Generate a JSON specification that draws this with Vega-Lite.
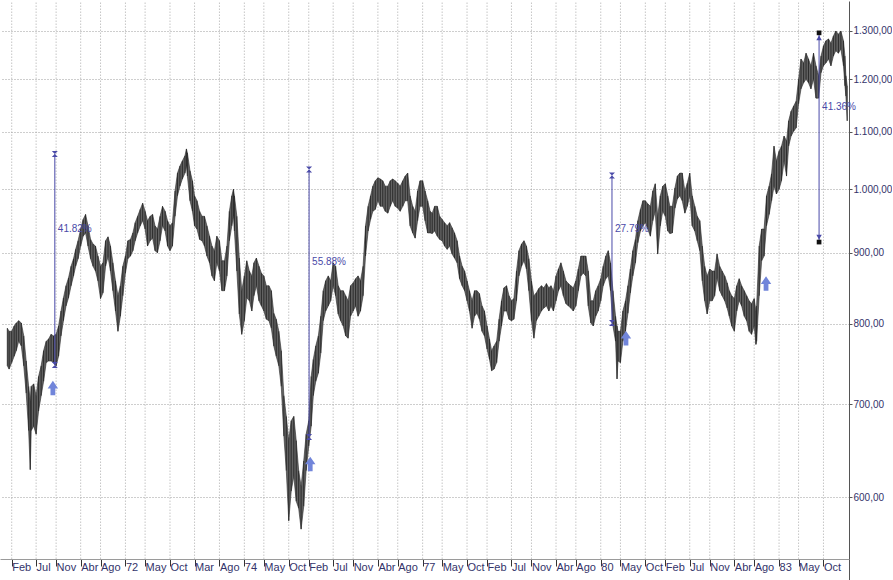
{
  "$schema": "https://vega.github.io/schema/vega-lite/v6.json",
  "width": 849,
  "height": 580,
  "padding": 0,
  "background": "white",
  "config": {
    "view": {"stroke": null},
    "axis": {"labelFont": "Liberation Sans", "title": null}
  },
  "datasets": {
    "series": [
      {"d":"1970-01-05","hi":794,"lo":746},{"d":"1970-01-16","hi":790,"lo":742},{"d":"1970-02-01","hi":790,"lo":750},{"d":"1970-02-16","hi":797,"lo":758},
      {"d":"1970-03-01","hi":801,"lo":765},{"d":"1970-03-16","hi":804,"lo":777},{"d":"1970-04-01","hi":801,"lo":771},{"d":"1970-04-16","hi":784,"lo":746},
      {"d":"1970-05-01","hi":752,"lo":713},{"d":"1970-05-16","hi":721,"lo":670},{"d":"1970-05-26","hi":704,"lo":628},{"d":"1970-06-01","hi":721,"lo":670},
      {"d":"1970-06-16","hi":724,"lo":675},{"d":"1970-07-01","hi":710,"lo":666},{"d":"1970-07-16","hi":733,"lo":692},{"d":"1970-08-01","hi":746,"lo":710},
      {"d":"1970-08-16","hi":765,"lo":727},{"d":"1970-09-01","hi":777,"lo":750},{"d":"1970-09-16","hi":780,"lo":752},{"d":"1970-10-01","hi":786,"lo":752},
      {"d":"1970-10-16","hi":784,"lo":750},{"d":"1970-11-01","hi":786,"lo":746},{"d":"1970-11-16","hi":797,"lo":758},{"d":"1970-12-01","hi":817,"lo":784},
      {"d":"1970-12-16","hi":835,"lo":804},{"d":"1971-01-01","hi":852,"lo":824},{"d":"1971-01-16","hi":863,"lo":835},{"d":"1971-02-01","hi":880,"lo":852},
      {"d":"1971-02-16","hi":891,"lo":866},{"d":"1971-03-01","hi":905,"lo":880},{"d":"1971-03-16","hi":918,"lo":891},{"d":"1971-04-01","hi":936,"lo":910},
      {"d":"1971-04-16","hi":951,"lo":925},{"d":"1971-05-01","hi":959,"lo":930},{"d":"1971-05-16","hi":941,"lo":910},{"d":"1971-06-01","hi":920,"lo":891},
      {"d":"1971-06-16","hi":913,"lo":880},{"d":"1971-07-01","hi":910,"lo":873},{"d":"1971-07-16","hi":895,"lo":859},{"d":"1971-08-01","hi":880,"lo":834},
      {"d":"1971-08-16","hi":885,"lo":842},{"d":"1971-09-01","hi":918,"lo":880},{"d":"1971-09-16","hi":924,"lo":894},{"d":"1971-10-01","hi":910,"lo":873},
      {"d":"1971-10-16","hi":885,"lo":845},{"d":"1971-11-01","hi":859,"lo":817},{"d":"1971-11-16","hi":838,"lo":790},{"d":"1971-12-01","hi":852,"lo":810},
      {"d":"1971-12-16","hi":880,"lo":838},{"d":"1972-01-01","hi":895,"lo":870},{"d":"1972-01-16","hi":918,"lo":891},{"d":"1972-02-01","hi":920,"lo":895},
      {"d":"1972-02-16","hi":930,"lo":903},{"d":"1972-03-01","hi":946,"lo":918},{"d":"1972-03-16","hi":956,"lo":930},{"d":"1972-04-01","hi":967,"lo":941},
      {"d":"1972-04-16","hi":977,"lo":949},{"d":"1972-05-01","hi":964,"lo":936},{"d":"1972-05-16","hi":949,"lo":910},{"d":"1972-06-01","hi":956,"lo":918},
      {"d":"1972-06-16","hi":959,"lo":922},{"d":"1972-07-01","hi":941,"lo":903},{"d":"1972-07-16","hi":936,"lo":900},{"d":"1972-08-01","hi":956,"lo":918},
      {"d":"1972-08-16","hi":972,"lo":941},{"d":"1972-09-01","hi":964,"lo":933},{"d":"1972-09-16","hi":949,"lo":910},{"d":"1972-10-01","hi":941,"lo":903},
      {"d":"1972-10-16","hi":946,"lo":910},{"d":"1972-11-01","hi":997,"lo":956},{"d":"1972-11-16","hi":1027,"lo":989},{"d":"1972-12-01","hi":1039,"lo":1005},
      {"d":"1972-12-16","hi":1048,"lo":1017},{"d":"1973-01-01","hi":1057,"lo":1027},{"d":"1973-01-10","hi":1069,"lo":1039},{"d":"1973-01-16","hi":1062,"lo":1022},
      {"d":"1973-02-01","hi":1031,"lo":981},{"d":"1973-02-16","hi":1014,"lo":964},{"d":"1973-03-01","hi":989,"lo":941},{"d":"1973-03-16","hi":981,"lo":936},
      {"d":"1973-04-01","hi":964,"lo":920},{"d":"1973-04-16","hi":956,"lo":918},{"d":"1973-05-01","hi":956,"lo":910},{"d":"1973-05-16","hi":941,"lo":895},
      {"d":"1973-06-01","hi":925,"lo":885},{"d":"1973-06-16","hi":910,"lo":866},{"d":"1973-07-01","hi":903,"lo":859},{"d":"1973-07-16","hi":925,"lo":885},
      {"d":"1973-08-01","hi":918,"lo":873},{"d":"1973-08-16","hi":888,"lo":845},{"d":"1973-09-01","hi":888,"lo":845},{"d":"1973-09-16","hi":910,"lo":866},
      {"d":"1973-10-01","hi":964,"lo":918},{"d":"1973-10-16","hi":989,"lo":941},{"d":"1973-10-26","hi":1000,"lo":956},{"d":"1973-11-01","hi":989,"lo":933},
      {"d":"1973-11-16","hi":956,"lo":873},{"d":"1973-12-01","hi":892,"lo":813},{"d":"1973-12-16","hi":845,"lo":786},{"d":"1974-01-01","hi":866,"lo":804},
      {"d":"1974-01-16","hi":888,"lo":835},{"d":"1974-02-01","hi":873,"lo":831},{"d":"1974-02-16","hi":866,"lo":817},{"d":"1974-03-01","hi":885,"lo":838},
      {"d":"1974-03-16","hi":892,"lo":852},{"d":"1974-04-01","hi":880,"lo":831},{"d":"1974-04-16","hi":870,"lo":824},{"d":"1974-05-01","hi":866,"lo":817},
      {"d":"1974-05-16","hi":852,"lo":806},{"d":"1974-06-01","hi":852,"lo":804},{"d":"1974-06-16","hi":845,"lo":794},{"d":"1974-07-01","hi":814,"lo":771},
      {"d":"1974-07-16","hi":806,"lo":758},{"d":"1974-08-01","hi":790,"lo":746},{"d":"1974-08-16","hi":765,"lo":721},{"d":"1974-09-01","hi":710,"lo":664},
      {"d":"1974-09-16","hi":686,"lo":627},{"d":"1974-10-01","hi":659,"lo":577},{"d":"1974-10-16","hi":681,"lo":606},{"d":"1974-11-01","hi":686,"lo":621},
      {"d":"1974-11-16","hi":659,"lo":596},{"d":"1974-12-01","hi":627,"lo":589},{"d":"1974-12-16","hi":611,"lo":569},{"d":"1975-01-01","hi":637,"lo":591},
      {"d":"1975-01-16","hi":666,"lo":627},{"d":"1975-02-01","hi":681,"lo":653},{"d":"1975-02-16","hi":733,"lo":675},{"d":"1975-03-01","hi":754,"lo":710},
      {"d":"1975-03-16","hi":771,"lo":727},{"d":"1975-04-01","hi":784,"lo":737},{"d":"1975-04-16","hi":810,"lo":762},{"d":"1975-05-01","hi":845,"lo":804},
      {"d":"1975-05-16","hi":859,"lo":817},{"d":"1975-06-01","hi":866,"lo":824},{"d":"1975-06-16","hi":859,"lo":831},{"d":"1975-07-01","hi":885,"lo":852},
      {"d":"1975-07-16","hi":880,"lo":838},{"d":"1975-08-01","hi":852,"lo":813},{"d":"1975-08-16","hi":845,"lo":804},{"d":"1975-09-01","hi":845,"lo":797},
      {"d":"1975-09-16","hi":838,"lo":784},{"d":"1975-10-01","hi":831,"lo":781},{"d":"1975-10-16","hi":852,"lo":810},{"d":"1975-11-01","hi":856,"lo":817},
      {"d":"1975-11-16","hi":862,"lo":824},{"d":"1975-12-01","hi":866,"lo":810},{"d":"1975-12-16","hi":859,"lo":817},{"d":"1976-01-01","hi":880,"lo":838},
      {"d":"1976-01-16","hi":941,"lo":895},{"d":"1976-02-01","hi":972,"lo":933},{"d":"1976-02-16","hi":989,"lo":951},{"d":"1976-03-01","hi":1005,"lo":964},
      {"d":"1976-03-16","hi":1014,"lo":967},{"d":"1976-04-01","hi":1019,"lo":981},{"d":"1976-04-16","hi":1017,"lo":972},{"d":"1976-05-01","hi":1014,"lo":972},
      {"d":"1976-05-16","hi":1005,"lo":964},{"d":"1976-06-01","hi":1005,"lo":961},{"d":"1976-06-16","hi":1014,"lo":972},{"d":"1976-07-01","hi":1017,"lo":981},
      {"d":"1976-07-16","hi":1014,"lo":972},{"d":"1976-08-01","hi":1010,"lo":969},{"d":"1976-08-16","hi":1005,"lo":964},{"d":"1976-09-01","hi":1014,"lo":972},
      {"d":"1976-09-16","hi":1022,"lo":981},{"d":"1976-10-01","hi":1027,"lo":981},{"d":"1976-10-16","hi":989,"lo":941},{"d":"1976-11-01","hi":972,"lo":930},
      {"d":"1976-11-16","hi":964,"lo":922},{"d":"1976-12-01","hi":997,"lo":949},{"d":"1976-12-16","hi":1014,"lo":972},{"d":"1977-01-01","hi":1014,"lo":972},
      {"d":"1977-01-16","hi":997,"lo":949},{"d":"1977-02-01","hi":981,"lo":930},{"d":"1977-02-16","hi":964,"lo":930},{"d":"1977-03-01","hi":961,"lo":929},
      {"d":"1977-03-16","hi":972,"lo":933},{"d":"1977-04-01","hi":972,"lo":925},{"d":"1977-04-16","hi":956,"lo":920},{"d":"1977-05-01","hi":951,"lo":918},
      {"d":"1977-05-16","hi":946,"lo":910},{"d":"1977-06-01","hi":941,"lo":905},{"d":"1977-06-16","hi":946,"lo":910},{"d":"1977-07-01","hi":938,"lo":898},
      {"d":"1977-07-16","hi":930,"lo":892},{"d":"1977-08-01","hi":918,"lo":885},{"d":"1977-08-16","hi":895,"lo":862},{"d":"1977-09-01","hi":880,"lo":852},
      {"d":"1977-09-16","hi":873,"lo":845},{"d":"1977-10-01","hi":859,"lo":831},{"d":"1977-10-16","hi":845,"lo":817},{"d":"1977-11-01","hi":831,"lo":794},
      {"d":"1977-11-16","hi":845,"lo":810},{"d":"1977-12-01","hi":845,"lo":814},{"d":"1977-12-16","hi":841,"lo":806},{"d":"1978-01-01","hi":824,"lo":790},
      {"d":"1978-01-16","hi":817,"lo":784},{"d":"1978-02-01","hi":797,"lo":767},{"d":"1978-02-16","hi":780,"lo":754},{"d":"1978-03-01","hi":765,"lo":740},
      {"d":"1978-03-16","hi":771,"lo":742},{"d":"1978-04-01","hi":777,"lo":750},{"d":"1978-04-16","hi":806,"lo":777},{"d":"1978-05-01","hi":831,"lo":797},
      {"d":"1978-05-16","hi":849,"lo":817},{"d":"1978-06-01","hi":852,"lo":817},{"d":"1978-06-16","hi":838,"lo":806},{"d":"1978-07-01","hi":831,"lo":804},
      {"d":"1978-07-16","hi":834,"lo":806},{"d":"1978-08-01","hi":873,"lo":831},{"d":"1978-08-16","hi":903,"lo":866},{"d":"1978-09-01","hi":913,"lo":880},
      {"d":"1978-09-16","hi":918,"lo":888},{"d":"1978-10-01","hi":910,"lo":876},{"d":"1978-10-16","hi":891,"lo":845},{"d":"1978-11-01","hi":859,"lo":804},
      {"d":"1978-11-16","hi":838,"lo":781},{"d":"1978-12-01","hi":842,"lo":804},{"d":"1978-12-16","hi":848,"lo":810},{"d":"1979-01-01","hi":852,"lo":817},
      {"d":"1979-01-16","hi":849,"lo":821},{"d":"1979-02-01","hi":855,"lo":824},{"d":"1979-02-16","hi":849,"lo":817},{"d":"1979-03-01","hi":852,"lo":824},
      {"d":"1979-03-16","hi":845,"lo":817},{"d":"1979-04-01","hi":866,"lo":831},{"d":"1979-04-16","hi":876,"lo":845},{"d":"1979-05-01","hi":885,"lo":852},
      {"d":"1979-05-16","hi":873,"lo":838},{"d":"1979-06-01","hi":859,"lo":827},{"d":"1979-06-16","hi":855,"lo":824},{"d":"1979-07-01","hi":852,"lo":821},
      {"d":"1979-07-16","hi":849,"lo":817},{"d":"1979-08-01","hi":859,"lo":824},{"d":"1979-08-16","hi":876,"lo":845},{"d":"1979-09-01","hi":895,"lo":866},
      {"d":"1979-09-16","hi":895,"lo":870},{"d":"1979-10-01","hi":895,"lo":866},{"d":"1979-10-16","hi":873,"lo":824},{"d":"1979-11-01","hi":831,"lo":801},
      {"d":"1979-11-16","hi":831,"lo":797},{"d":"1979-12-01","hi":845,"lo":810},{"d":"1979-12-16","hi":852,"lo":817},{"d":"1980-01-01","hi":862,"lo":831},
      {"d":"1980-01-16","hi":880,"lo":852},{"d":"1980-02-01","hi":895,"lo":862},{"d":"1980-02-16","hi":903,"lo":866},{"d":"1980-03-01","hi":885,"lo":845},
      {"d":"1980-03-16","hi":845,"lo":797},{"d":"1980-04-01","hi":810,"lo":777},{"d":"1980-04-10","hi":797,"lo":730},{"d":"1980-04-16","hi":790,"lo":752},
      {"d":"1980-05-01","hi":790,"lo":750},{"d":"1980-05-16","hi":817,"lo":777},{"d":"1980-06-01","hi":831,"lo":790},{"d":"1980-06-16","hi":852,"lo":814},
      {"d":"1980-07-01","hi":876,"lo":842},{"d":"1980-07-16","hi":903,"lo":866},{"d":"1980-08-01","hi":920,"lo":885},{"d":"1980-08-16","hi":949,"lo":915},
      {"d":"1980-09-01","hi":967,"lo":933},{"d":"1980-09-16","hi":981,"lo":941},{"d":"1980-10-01","hi":981,"lo":946},{"d":"1980-10-16","hi":976,"lo":936},
      {"d":"1980-11-01","hi":972,"lo":925},{"d":"1980-11-16","hi":997,"lo":949},{"d":"1980-12-01","hi":1009,"lo":964},{"d":"1980-12-16","hi":956,"lo":898},
      {"d":"1981-01-01","hi":989,"lo":941},{"d":"1981-01-16","hi":1005,"lo":964},{"d":"1981-02-01","hi":1009,"lo":956},{"d":"1981-02-16","hi":989,"lo":933},
      {"d":"1981-03-01","hi":972,"lo":929},{"d":"1981-03-16","hi":972,"lo":930},{"d":"1981-04-01","hi":1002,"lo":969},{"d":"1981-04-16","hi":1022,"lo":984},
      {"d":"1981-05-01","hi":1027,"lo":989},{"d":"1981-05-16","hi":1027,"lo":981},{"d":"1981-06-01","hi":997,"lo":961},{"d":"1981-06-16","hi":1010,"lo":972},
      {"d":"1981-07-01","hi":1027,"lo":989},{"d":"1981-07-16","hi":989,"lo":941},{"d":"1981-08-01","hi":972,"lo":933},{"d":"1981-08-16","hi":956,"lo":918},
      {"d":"1981-09-01","hi":949,"lo":903},{"d":"1981-09-16","hi":910,"lo":859},{"d":"1981-10-01","hi":880,"lo":831},{"d":"1981-10-16","hi":866,"lo":813},
      {"d":"1981-11-01","hi":876,"lo":831},{"d":"1981-11-16","hi":873,"lo":831},{"d":"1981-12-01","hi":873,"lo":838},{"d":"1981-12-16","hi":898,"lo":863},
      {"d":"1982-01-01","hi":880,"lo":845},{"d":"1982-01-16","hi":873,"lo":838},{"d":"1982-02-01","hi":866,"lo":831},{"d":"1982-02-16","hi":856,"lo":821},
      {"d":"1982-03-01","hi":845,"lo":810},{"d":"1982-03-16","hi":838,"lo":797},{"d":"1982-04-01","hi":834,"lo":790},{"d":"1982-04-16","hi":852,"lo":817},
      {"d":"1982-05-01","hi":862,"lo":831},{"d":"1982-05-16","hi":852,"lo":824},{"d":"1982-06-01","hi":845,"lo":810},{"d":"1982-06-16","hi":838,"lo":804},
      {"d":"1982-07-01","hi":831,"lo":790},{"d":"1982-07-16","hi":827,"lo":786},{"d":"1982-08-01","hi":834,"lo":797},{"d":"1982-08-12","hi":817,"lo":773},
      {"d":"1982-08-16","hi":824,"lo":777},{"d":"1982-09-01","hi":910,"lo":838},{"d":"1982-09-16","hi":936,"lo":888},{"d":"1982-10-01","hi":936,"lo":895},
      {"d":"1982-10-16","hi":989,"lo":941},{"d":"1982-11-01","hi":1005,"lo":959},{"d":"1982-11-16","hi":1026,"lo":981},{"d":"1982-12-01","hi":1074,"lo":1005},
      {"d":"1982-12-16","hi":1048,"lo":992},{"d":"1983-01-01","hi":1065,"lo":1000},{"d":"1983-01-16","hi":1074,"lo":1014},{"d":"1983-02-01","hi":1092,"lo":1048},
      {"d":"1983-02-16","hi":1083,"lo":1022},{"d":"1983-03-01","hi":1120,"lo":1074},{"d":"1983-03-16","hi":1138,"lo":1092},{"d":"1983-04-01","hi":1148,"lo":1101},
      {"d":"1983-04-16","hi":1157,"lo":1107},{"d":"1983-05-01","hi":1200,"lo":1152},{"d":"1983-05-16","hi":1241,"lo":1181},{"d":"1983-06-01","hi":1233,"lo":1193},
      {"d":"1983-06-16","hi":1253,"lo":1200},{"d":"1983-07-01","hi":1241,"lo":1193},{"d":"1983-07-16","hi":1227,"lo":1181},{"d":"1983-08-01","hi":1253,"lo":1200},
      {"d":"1983-08-16","hi":1227,"lo":1163},{"d":"1983-09-01","hi":1207,"lo":1163},{"d":"1983-09-16","hi":1247,"lo":1213},{"d":"1983-10-01","hi":1268,"lo":1227},
      {"d":"1983-10-16","hi":1279,"lo":1233},{"d":"1983-11-01","hi":1283,"lo":1241},{"d":"1983-11-16","hi":1274,"lo":1227},{"d":"1983-12-01","hi":1289,"lo":1247},
      {"d":"1983-12-16","hi":1300,"lo":1258},{"d":"1984-01-01","hi":1293,"lo":1253},{"d":"1984-01-16","hi":1300,"lo":1262},{"d":"1984-02-01","hi":1279,"lo":1227},
      {"d":"1984-02-10","hi":1247,"lo":1187},{"d":"1984-02-16","hi":1207,"lo":1167},{"d":"1984-02-24","hi":1187,"lo":1120}
    ],
    "ticks": [
      {"d":"1970-02-01"},{"d":"1970-07-01"},{"d":"1970-11-01"},{"d":"1971-04-01"},{"d":"1971-08-01"},{"d":"1972-01-01"},{"d":"1972-05-01"},{"d":"1972-10-01"},
      {"d":"1973-03-01"},{"d":"1973-08-01"},{"d":"1974-01-01"},{"d":"1974-05-01"},{"d":"1974-10-01"},{"d":"1975-02-01"},{"d":"1975-07-01"},{"d":"1975-11-01"},
      {"d":"1976-04-01"},{"d":"1976-08-01"},{"d":"1977-01-01"},{"d":"1977-05-01"},{"d":"1977-10-01"},{"d":"1978-02-01"},{"d":"1978-07-01"},{"d":"1978-11-01"},
      {"d":"1979-04-01"},{"d":"1979-08-01"},{"d":"1980-01-01"},{"d":"1980-05-01"},{"d":"1980-10-01"},{"d":"1981-02-01"},{"d":"1981-07-01"},{"d":"1981-11-01"},
      {"d":"1982-04-01"},{"d":"1982-08-01"},{"d":"1983-01-01"},{"d":"1983-05-01"},{"d":"1983-10-01"}
    ],
    "ann": [
      {"d":"1970-10-24","top":1060,"bot":747,"pct":"41.82%","ly":936,"k":"a"},
      {"d":"1975-02-03","top":1033,"bot":663,"pct":"55.88%","ly":886,"k":"a"},
      {"d":"1980-03-10","top":1023,"bot":801,"pct":"27.79%","ly":936,"k":"a"},
      {"d":"1983-09-04","top":1296,"bot":916,"pct":"41.36%","ly":1146,"k":"b"}
    ],
    "arrows": [
      {"d":"1970-10-12","v":719},{"d":"1975-02-10","v":634},{"d":"1980-06-04","v":781},{"d":"1982-10-13","v":855}
    ]
  },
  "encoding": {
    "x": {
      "field": "d", "type": "temporal",
      "scale": {"type": "utc", "domain": [{"year":1969,"month":11,"date":21,"utc":true},{"year":1984,"month":3,"date":6,"utc":true}]},
      "axis": {
        "orient": "bottom", "offset": -22, "grid": false, "zindex": 1, "title": null,
        "values": [
          {"year":1970,"month":2,"date":1,"utc":true},{"year":1970,"month":7,"date":1,"utc":true},{"year":1970,"month":11,"date":1,"utc":true},
          {"year":1971,"month":4,"date":1,"utc":true},{"year":1971,"month":8,"date":1,"utc":true},{"year":1972,"month":1,"date":1,"utc":true},
          {"year":1972,"month":5,"date":1,"utc":true},{"year":1972,"month":10,"date":1,"utc":true},{"year":1973,"month":3,"date":1,"utc":true},
          {"year":1973,"month":8,"date":1,"utc":true},{"year":1974,"month":1,"date":1,"utc":true},{"year":1974,"month":5,"date":1,"utc":true},
          {"year":1974,"month":10,"date":1,"utc":true},{"year":1975,"month":2,"date":1,"utc":true},{"year":1975,"month":7,"date":1,"utc":true},
          {"year":1975,"month":11,"date":1,"utc":true},{"year":1976,"month":4,"date":1,"utc":true},{"year":1976,"month":8,"date":1,"utc":true},
          {"year":1977,"month":1,"date":1,"utc":true},{"year":1977,"month":5,"date":1,"utc":true},{"year":1977,"month":10,"date":1,"utc":true},
          {"year":1978,"month":2,"date":1,"utc":true},{"year":1978,"month":7,"date":1,"utc":true},{"year":1978,"month":11,"date":1,"utc":true},
          {"year":1979,"month":4,"date":1,"utc":true},{"year":1979,"month":8,"date":1,"utc":true},{"year":1980,"month":1,"date":1,"utc":true},
          {"year":1980,"month":5,"date":1,"utc":true},{"year":1980,"month":10,"date":1,"utc":true},{"year":1981,"month":2,"date":1,"utc":true},
          {"year":1981,"month":7,"date":1,"utc":true},{"year":1981,"month":11,"date":1,"utc":true},{"year":1982,"month":4,"date":1,"utc":true},
          {"year":1982,"month":8,"date":1,"utc":true},{"year":1983,"month":1,"date":1,"utc":true},{"year":1983,"month":5,"date":1,"utc":true},
          {"year":1983,"month":10,"date":1,"utc":true}
        ],
        "labelExpr": "utcmonth(datum.value) == 0 ? utcFormat(datum.value, '%y') : ['Ene','Feb','Mar','Abr','May','Jun','Jul','Ago','Sep','Oct','Nov','Dic'][utcmonth(datum.value)]",
        "domainColor": "#9a9a9a", "tickColor": "#333333", "tickSize": 7,
        "labelAlign": "left", "labelBaseline": "top", "labelPadding": -5, "labelDx": 2,
        "labelFontSize": 11, "labelColor": "#33336a", "labelOverlap": false, "labelFlush": false
      }
    }
  },
  "layer": [
    {
      "data": {"values": [{}]},
      "mark": {"type": "rect", "color": "#fffde0"},
      "encoding": {
        "x": {"datum": {"year":1969,"month":11,"date":21,"utc":true}, "type": "temporal"},
        "x2": {"datum": {"year":1984,"month":12,"date":1,"utc":true}},
        "y": {
          "datum": 522.1, "type": "quantitative",
          "scale": {"type": "log", "domain": [522.1, 1366.3], "nice": false},
          "axis": {
            "orient": "right", "title": null,
            "values": [600, 700, 800, 900, 1000, 1100, 1200, 1300],
            "labelExpr": "datum.value >= 1000 ? '1.' + format(datum.value - 1000, '03d') + ',00' : format(datum.value, 'd') + ',00'",
            "grid": true, "gridDash": [1, 2], "gridColor": "#9c9c9c",
            "domainColor": "#555555", "tickColor": "#555555", "tickSize": 3,
            "labelColor": "#33336a", "labelFontSize": 10, "labelPadding": 1
          }
        },
        "y2": {"datum": 541.8}
      }
    },
    {
      "data": {"name": "ticks"},
      "mark": {"type": "rule", "color": "#a8a8a8", "strokeDash": [1, 2], "strokeWidth": 1},
      "encoding": {
        "y": {"datum": 541.8, "type": "quantitative", "scale": {"type": "log", "domain": [522.1, 1366.3], "nice": false}},
        "y2": {"datum": 1366.3}
      }
    },
    {
      "data": {"name": "series"},
      "mark": {"type": "area", "color": "#626262"},
      "encoding": {
        "y": {"field": "hi", "type": "quantitative", "scale": {"type": "log", "domain": [522.1, 1366.3], "nice": false}},
        "y2": {"field": "lo"}
      }
    },
    {
      "data": {"name": "series"},
      "mark": {"type": "rule", "color": "#262626", "strokeWidth": 0.9},
      "encoding": {
        "y": {"field": "hi", "type": "quantitative", "scale": {"type": "log", "domain": [522.1, 1366.3], "nice": false}},
        "y2": {"field": "lo"}
      }
    },
    {
      "data": {"name": "series"},
      "mark": {"type": "line", "color": "#2a2a2a", "strokeWidth": 0.6},
      "encoding": {
        "y": {"field": "hi", "type": "quantitative", "scale": {"type": "log", "domain": [522.1, 1366.3], "nice": false}}
      }
    },
    {
      "data": {"name": "series"},
      "mark": {"type": "line", "color": "#2a2a2a", "strokeWidth": 0.6},
      "encoding": {
        "y": {"field": "lo", "type": "quantitative", "scale": {"type": "log", "domain": [522.1, 1366.3], "nice": false}}
      }
    },
    {
      "data": {"name": "ann"},
      "mark": {"type": "rule", "color": "#4a4aa8", "strokeWidth": 1},
      "encoding": {
        "y": {"field": "top", "type": "quantitative", "scale": {"type": "log", "domain": [522.1, 1366.3], "nice": false}},
        "y2": {"field": "bot"}
      }
    },
    {
      "data": {"name": "ann"},
      "mark": {"type": "text", "align": "left", "baseline": "middle", "dx": 3, "fontSize": 10, "font": "Liberation Sans", "color": "#4a4aa8"},
      "encoding": {
        "y": {"field": "ly", "type": "quantitative", "scale": {"type": "log", "domain": [522.1, 1366.3], "nice": false}},
        "text": {"field": "pct"}
      }
    },
    {
      "data": {"name": "ann"},
      "transform": [{"filter": "datum.k == 'a'"}],
      "mark": {"type": "point", "shape": "M-1,-1L1,-1L-1,1L1,1Z", "filled": true, "size": 36, "color": "#4a4aa8", "opacity": 1},
      "encoding": {
        "y": {"field": "top", "type": "quantitative", "scale": {"type": "log", "domain": [522.1, 1366.3], "nice": false}}
      }
    },
    {
      "data": {"name": "ann"},
      "transform": [{"filter": "datum.k == 'a'"}],
      "mark": {"type": "point", "shape": "M-1,-1L1,-1L-1,1L1,1Z", "filled": true, "size": 36, "color": "#4a4aa8", "opacity": 1},
      "encoding": {
        "y": {"field": "bot", "type": "quantitative", "scale": {"type": "log", "domain": [522.1, 1366.3], "nice": false}}
      }
    },
    {
      "data": {"name": "ann"},
      "transform": [{"filter": "datum.k == 'b'"}],
      "mark": {"type": "point", "shape": "triangle-up", "filled": true, "size": 30, "color": "#4a4aa8", "opacity": 1, "yOffset": 5},
      "encoding": {
        "y": {"field": "top", "type": "quantitative", "scale": {"type": "log", "domain": [522.1, 1366.3], "nice": false}}
      }
    },
    {
      "data": {"name": "ann"},
      "transform": [{"filter": "datum.k == 'b'"}],
      "mark": {"type": "point", "shape": "triangle-down", "filled": true, "size": 30, "color": "#4a4aa8", "opacity": 1, "yOffset": -5},
      "encoding": {
        "y": {"field": "bot", "type": "quantitative", "scale": {"type": "log", "domain": [522.1, 1366.3], "nice": false}}
      }
    },
    {
      "data": {"name": "ann"},
      "transform": [{"filter": "datum.k == 'b'"}],
      "mark": {"type": "point", "shape": "square", "filled": true, "size": 22, "color": "#111111", "opacity": 1},
      "encoding": {
        "y": {"field": "top", "type": "quantitative", "scale": {"type": "log", "domain": [522.1, 1366.3], "nice": false}}
      }
    },
    {
      "data": {"name": "ann"},
      "transform": [{"filter": "datum.k == 'b'"}],
      "mark": {"type": "point", "shape": "square", "filled": true, "size": 22, "color": "#111111", "opacity": 1},
      "encoding": {
        "y": {"field": "bot", "type": "quantitative", "scale": {"type": "log", "domain": [522.1, 1366.3], "nice": false}}
      }
    },
    {
      "data": {"name": "arrows"},
      "mark": {"type": "point", "shape": "M0,-1L0.72,0.05L0.33,0.05L0.33,1L-0.33,1L-0.33,0.05L-0.72,0.05Z", "filled": true, "size": 210, "color": "#7185da", "opacity": 1},
      "encoding": {
        "y": {"field": "v", "type": "quantitative", "scale": {"type": "log", "domain": [522.1, 1366.3], "nice": false}}
      }
    },
    {
      "data": {"values": [{}]},
      "mark": {"type": "rect", "fill": "#dde5f2", "stroke": "#7f8fb5", "strokeWidth": 1},
      "encoding": {
        "x": {"datum": {"year":1969,"month":11,"date":21,"utc":true}, "type": "temporal"},
        "x2": {"datum": {"year":1970,"month":6,"date":22,"utc":true}},
        "y": {"datum": 546.4, "type": "quantitative", "scale": {"type": "log", "domain": [522.1, 1366.3], "nice": false}},
        "y2": {"datum": 558.3}
      }
    },
    {
      "data": {"values": [{"t": "rdenes"}]},
      "mark": {"type": "text", "align": "center", "baseline": "middle", "fontSize": 10, "font": "Liberation Sans", "color": "#3f4f80"},
      "encoding": {
        "x": {"datum": {"year":1970,"month":3,"date":6,"utc":true}, "type": "temporal"},
        "y": {"datum": 552.3, "type": "quantitative", "scale": {"type": "log", "domain": [522.1, 1366.3], "nice": false}},
        "text": {"field": "t"}
      }
    }
  ]
}
